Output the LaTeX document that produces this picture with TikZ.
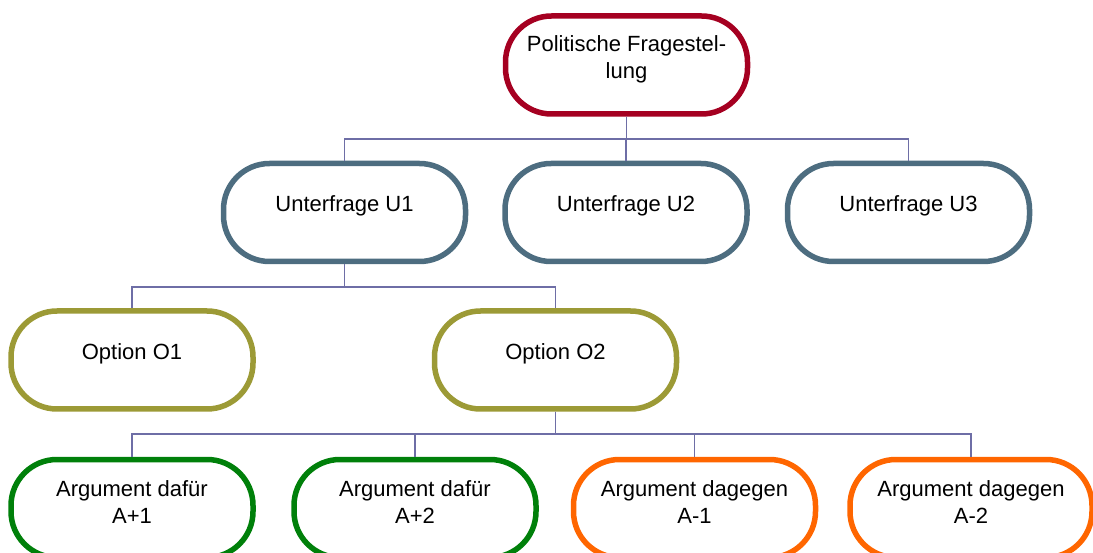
\documentclass[tikz,border=0pt]{standalone}
\usepackage{fontspec}
\setmainfont{Liberation Sans}
\definecolor{cred}{HTML}{A50021}
\definecolor{cblue}{HTML}{4D6D80}
\definecolor{colive}{HTML}{9C9A36}
\definecolor{cgreen}{HTML}{00800A}
\definecolor{corange}{HTML}{FF6600}
\definecolor{cline}{HTML}{6E6EA6}
\begin{document}
\begin{tikzpicture}[x=1pt,y=-1pt,
  box/.style={draw=#1,line width=5.5pt,rectangle,rounded corners=46pt,minimum width=242pt,minimum height=98pt,inner sep=0pt,fill=white},
  lbl/.style={anchor=base,align=center,inner sep=0pt,font=\fontsize{22}{27}\selectfont},
  conn/.style={draw=cline,line width=1.6pt}]
\useasboundingbox (0,0) rectangle (1093,553);
\clip (0,0) rectangle (1093,553);
\coordinate (bus1) at (0,139);
\coordinate (bus2) at (0,287);
\coordinate (bus3) at (0,434);
% boxes
\node[box=cred] (root) at (626.5,65) {};
\node[box=cblue] (u1) at (344.5,212.5) {};
\node[box=cblue] (u2) at (626,212.5) {};
\node[box=cblue] (u3) at (908.5,212.5) {};
\node[box=colive] (o1) at (132,360) {};
\node[box=colive] (o2) at (555.5,360) {};
\node[box=cgreen] (a1) at (132,508.5) {};
\node[box=cgreen] (a2) at (415,508.5) {};
\node[box=corange] (a3) at (694.5,508.5) {};
\node[box=corange] (a4) at (971,508.5) {};
% connectors
\foreach \c in {u1,u2,u3}
  \draw[conn] (root.south) -- (root.south |- bus1) -| (\c.north);
\foreach \c in {o1,o2}
  \draw[conn] (u1.south) -- (u1.south |- bus2) -| (\c.north);
\foreach \c in {a1,a2,a3,a4}
  \draw[conn] (o2.south) -- (o2.south |- bus3) -| (\c.north);
% labels
\node[lbl] (troot) at (626.5,79) {Politische Fragestel-\\lung};
\node[lbl] (tu1) at (344.5,212) {Unterfrage U1};
\node[lbl] (tu2) at (626,212) {Unterfrage U2};
\node[lbl] (tu3) at (908.5,212) {Unterfrage U3};
\node[lbl] (to1) at (132,360) {Option O1};
\node[lbl] (to2) at (555.5,360) {Option O2};
\node[lbl] (ta1) at (132,523) {Argument dafür\\A+1};
\node[lbl] (ta2) at (415,523) {Argument dafür\\A+2};
\node[lbl] (ta3) at (694.5,523) {Argument dagegen\\A-1};
\node[lbl] (ta4) at (971,523) {Argument dagegen\\A-2};
\end{tikzpicture}
\end{document}
